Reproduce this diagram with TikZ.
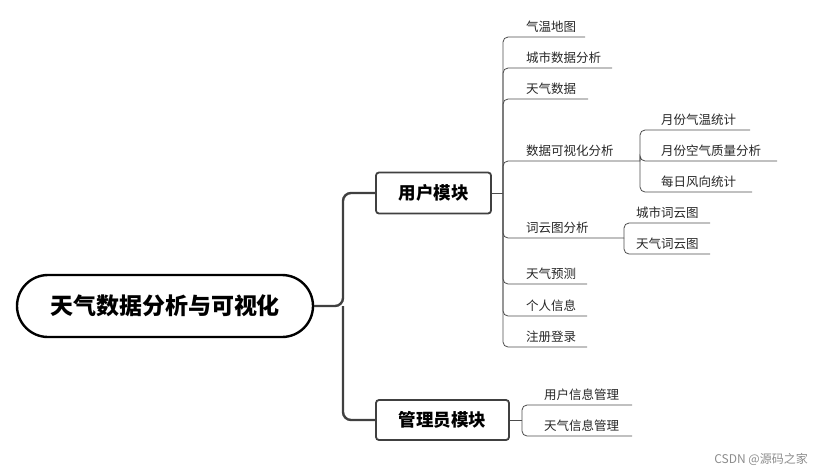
\documentclass[tikz,border=0pt]{standalone}
\usepackage{fontspec}
\setmainfont{Noto Sans CJK SC}
\begin{document}
\begin{tikzpicture}[x=1pt,y=-1pt,
  leaf/.style={anchor=south west,inner sep=0pt,font=\fontsize{12.5}{14}\selectfont,text=black!85},
  thin/.style={draw=black!70,line width=0.8pt,rounded corners=5pt},
  thick/.style={draw=black!75,line width=2.4pt,rounded corners=8pt},
  mod/.style={draw=black!75,line width=1.8pt,rounded corners=3pt,fill=white,font=\bfseries\fontsize{17.5}{20}\selectfont,inner sep=0pt}]
\useasboundingbox (0,0) rectangle (820,475);
\node[draw=black,line width=2.4pt,rounded corners=31pt,minimum width=296pt,minimum height=62pt,font=\bfseries\fontsize{23}{26}\selectfont,inner sep=0pt] (root) at (165,306) {天气数据分析与可视化};
\node[mod,minimum width=115pt,minimum height=41pt] (u) at (433.5,193) {用户模块};
\node[mod,minimum width=133pt,minimum height=40pt] (m) at (442.5,420) {管理员模块};
\coordinate (j) at (343,306);
\draw[thick] (root.east) -- (j) |- (u.west);
\draw[thick] (j) |- (m.west);
% user children
\coordinate (uj) at (503,193);
\draw[thin] (u.east) -- (uj);
\foreach \t/\y/\e/\n in {气温地图/37/585/a1,城市数据分析/68/612/a2,天气数据/99/588/a3,数据可视化分析/161/640/a4,词云图分析/238/624/a5,天气预测/284/587/a6,个人信息/316/587/a7,注册登录/347/587/a8}{
  \coordinate (\n) at (\e,\y);
  \draw[thin] (uj) |- (\n);
  \node[leaf] at (526,\y-4) {\t};
}
% viz children
\foreach \t/\y/\e/\n in {月份气温统计/130/750/b1,月份空气质量分析/161/777/b2,每日风向统计/192/752/b3}{
  \coordinate (\n) at (\e,\y);
  \draw[thin] (a4) |- (\n);
  \node[leaf] at (661,\y-4) {\t};
}
% word cloud children
\foreach \t/\y/\e/\n in {城市词云图/223/710/c1,天气词云图/254/710/c2}{
  \coordinate (\n) at (\e,\y);
  \draw[thin] (a5) |- (\n);
  \node[leaf] at (636,\y-4) {\t};
}
% admin children
\coordinate (mj) at (522,420);
\draw[thin] (m.east) -- (mj);
\foreach \t/\y/\e/\n in {用户信息管理/405/632/d1,天气信息管理/436/632/d2}{
  \coordinate (\n) at (\e,\y);
  \draw[thin] (mj) |- (\n);
  \node[leaf] at (544,\y-4) {\t};
}
\node[anchor=east,font=\fontsize{12}{14}\selectfont,text=black!45,inner sep=0pt] (wm) at (808,459) {CSDN @源码之家};
\end{tikzpicture}
\end{document}
